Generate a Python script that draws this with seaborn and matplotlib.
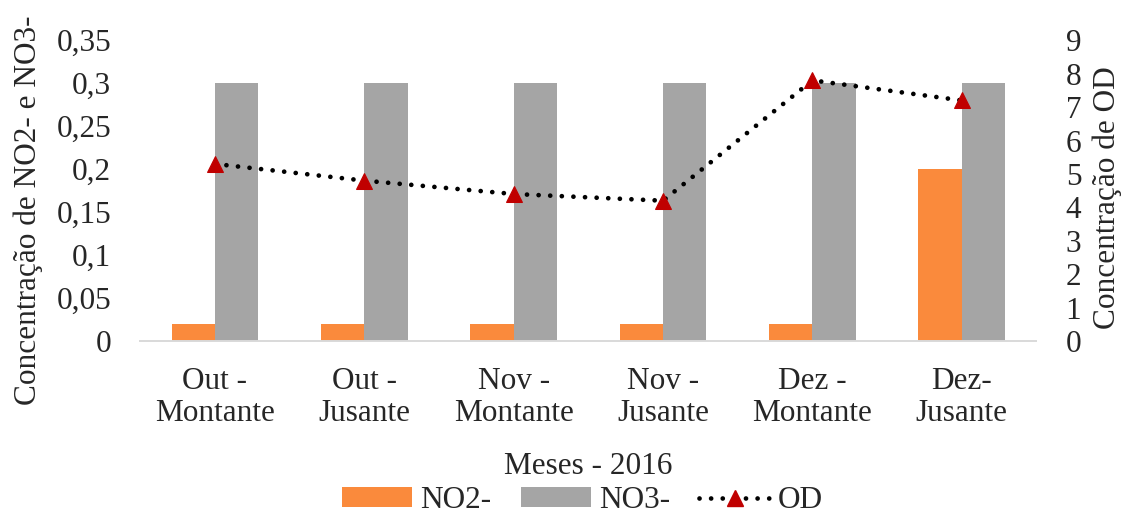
import matplotlib
matplotlib.use("Agg")
import matplotlib.pyplot as plt
from matplotlib.lines import Line2D
from matplotlib.patches import Patch
import seaborn as sns
import pandas as pd

sns.set_theme(style="white")
plt.rcParams["font.family"] = ["Liberation Serif", "DejaVu Serif"]

categories = ["Out -\nMontante", "Out -\nJusante", "Nov -\nMontante",
              "Nov -\nJusante", "Dez -\nMontante", "Dez-\nJusante"]
no2 = [0.02, 0.02, 0.02, 0.02, 0.02, 0.2]
no3 = [0.3, 0.3, 0.3, 0.3, 0.3, 0.3]
od = [5.3, 4.8, 4.4, 4.2, 7.8, 7.2]
left_ticks = [0, 0.05, 0.1, 0.15, 0.2, 0.25, 0.3, 0.35]
left_labels = ["0", "0,05", "0,1", "0,15", "0,2", "0,25", "0,3", "0,35"]
right_ticks = list(range(0, 10))

ORANGE = "#FA8A3C"
GRAY = "#A5A5A5"
RED = "#C00000"
FS = 22.5
DOTS = (0, (0.01, 2.45))

df = pd.DataFrame({
    "cat": categories * 2,
    "serie": ["NO2-"] * 6 + ["NO3-"] * 6,
    "valor": no2 + no3,
})

fig = plt.figure(figsize=(11.26, 5.16), dpi=100)
ax = fig.add_axes([0.1245, 0.339, 0.796, 0.583])

sns.barplot(data=df, x="cat", y="valor", hue="serie", order=categories,
            hue_order=["NO2-", "NO3-"], palette=[ORANGE, GRAY],
            width=0.58, gap=0, ax=ax, legend=False, saturation=1,
            linewidth=0, edgecolor="none")

ax.set_ylim(0, 0.35)
ax.set_xlim(-0.5, 5.5)
ax.set_yticks(left_ticks)
ax.set_yticklabels(left_labels, fontsize=FS)
ax.set_xticks(range(6))
ax.set_xticklabels(categories, fontsize=FS, linespacing=1.12)
ax.tick_params(axis="y", length=0, pad=21)
ax.tick_params(axis="x", length=0, pad=19)
ax.set_xlabel("Meses - 2016", fontsize=FS, labelpad=17)
ax.set_ylabel("Concentração de NO2- e NO3-", fontsize=FS,
              rotation=90, rotation_mode="anchor", ha="center", va="center")
ax.yaxis.set_label_coords(-0.125, 0.435)
for side in ["top", "right", "left"]:
    ax.spines[side].set_visible(False)
ax.spines["bottom"].set_color("#D9D9D9")
ax.spines["bottom"].set_linewidth(1.4)

ax2 = ax.twinx()
od_df = pd.DataFrame({"x": range(6), "od": od})
sns.lineplot(data=od_df, x="x", y="od", ax=ax2, color="black",
             linewidth=3.4, marker="^", markersize=11,
             markerfacecolor=RED, markeredgecolor=RED)
line = ax2.get_lines()[0]
line.set_linestyle(DOTS)
line.set_dash_capstyle("round")
ax2.set_ylim(0, 9)
ax2.set_xlim(-0.5, 5.5)
ax2.set_yticks(right_ticks)
ax2.set_yticklabels([str(t) for t in right_ticks], fontsize=FS)
ax2.tick_params(axis="y", length=0, pad=21)
ax2.set_ylabel("Concentração de OD", fontsize=FS,
               rotation=90, rotation_mode="anchor", ha="center", va="center")
ax2.yaxis.set_label_coords(1.079, 0.478)
ax2.set_xlabel("")
for side in ["top", "right", "left", "bottom"]:
    ax2.spines[side].set_visible(False)

handles = [
    Patch(facecolor=ORANGE, edgecolor="none"),
    Patch(facecolor=GRAY, edgecolor="none"),
    Line2D([0], [0], color="black", linewidth=3.4,
           linestyle=DOTS, dash_capstyle="round",
           marker="^", markersize=11, markerfacecolor=RED,
           markeredgecolor=RED),
]
fig.legend(handles, ["NO2-", "NO3-", "OD"], loc="center",
           bbox_to_anchor=(0.517, 0.03), ncol=3, frameon=False,
           fontsize=FS, handlelength=2.25, handleheight=0.6,
           columnspacing=0.95, handletextpad=0.25, borderpad=0.2)

fig.savefig("out.png", dpi=100)
